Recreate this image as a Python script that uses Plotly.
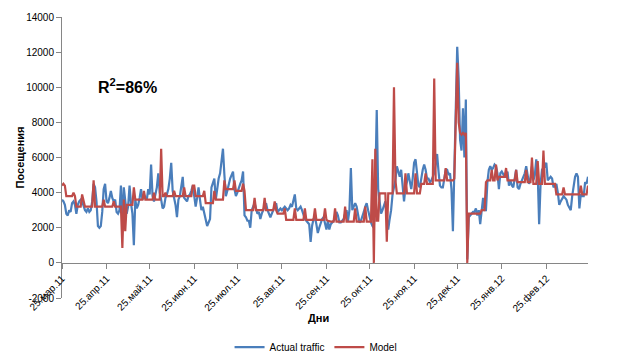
import pandas as pd
import plotly.graph_objects as go

start_date = "2011-03-25"

actual_traffic = [
    3600, 3500, 3300, 2800, 2700, 3000, 2900,
    3400, 3500, 3300, 2800, 3300, 3500, 3600,
    3500, 3200, 3000, 2900, 3100, 2900, 3000,
    3500, 4500, 4300, 3500, 2100, 2000, 2100,
    2900, 4200, 4500, 3500, 3400, 3700, 4100,
    3700, 3500, 3600, 2900, 2800, 3000, 4400,
    2200, 4300, 3500, 2800, 3200, 4400, 3400,
    2800, 1000, 3600, 3100, 3300, 3700, 4200,
    3600, 3900, 3700, 3600, 4200, 3900, 5600,
    3800, 3500, 3900, 4300, 5100, 4000, 3600,
    3100, 3200, 3700, 3900, 4200, 4800, 5700,
    4100, 3700, 3300, 2600, 3600, 3800, 4300,
    4900, 3700, 3600, 3500, 3800, 3900, 4100,
    4400, 3800, 3200, 3700, 4300, 3600, 3000,
    3200, 2800, 2300, 2100, 2300, 2500, 4300,
    4600, 4800, 3600, 4400, 4800, 5100, 5700,
    6500, 5000, 3800, 4100, 4500, 4800, 5000,
    5200, 4200, 3800, 4000, 4300, 4500, 4700,
    5200, 2700, 2600, 2400, 2400, 2000, 3000,
    3200, 3400, 3100, 2800, 2900, 2500, 2800,
    3000, 3200, 3400, 3000, 2800, 2600, 2800,
    3000, 3200, 3400, 2900, 3000, 3100, 3000,
    3100, 3200, 3100, 3000, 3100, 3300, 3200,
    3500, 3900, 3100, 3000, 3100, 3200, 3000,
    2700, 2500, 2400, 2300, 2200, 1200, 2100,
    2500, 2600, 2200, 1700, 2000, 2300, 2500,
    2600, 2300, 1900, 2400, 1900, 2200, 2300,
    2400, 2500, 2900, 2700, 2300, 2300, 2400,
    2500, 2800, 3000, 2400, 3000, 5400, 3000,
    3200, 3400, 3200, 2800, 2300, 2400, 2600,
    2900, 3200, 3400, 3000, 2600, 2300, 2100,
    2000, 4500, 8700, 4200, 3300, 2800, 3000,
    3200, 3500, 2600, 1900, 2500, 3000, 3900,
    4300, 4700, 5500, 5100, 4900, 5300, 4500,
    3500, 4300, 4600, 5100, 4600, 4200, 4800,
    5700, 5900, 5000, 4400, 4300, 4900, 5300,
    5600, 5300, 4800, 4800, 4600, 4700, 4900,
    5100, 5600, 6200, 5200, 4400, 4300, 4300,
    4800, 5300, 5300, 5000, 5100, 4200, 1800,
    5500, 9500, 12300, 10500, 7000, 6400, 8800,
    6000, 9300, 200, 2600, 2700, 2800, 2900,
    2900, 3100, 2700, 3000, 2200, 3000, 3700,
    3000, 3000, 4600, 5300, 5500, 5300, 5400,
    5600, 5500, 5100, 4200, 5100, 5200, 5000,
    4900, 4900, 5200, 4400, 4700, 4400, 4300,
    4800, 5300, 4300, 4200, 4500, 4700, 4900,
    5100, 5500, 4900, 4500, 4800, 5500, 4700,
    5000, 5900, 5100, 2200, 4500, 5300, 5400,
    5500, 5700, 4700, 4800, 4900, 4800, 4300,
    4400, 4500, 4000, 3300, 3500, 3700, 3800,
    3700, 3600, 3300, 3100, 3000, 3800, 4500,
    4900, 5100, 4900, 3100, 3900, 3800, 3800,
    4600, 4500, 4900,
]

model = [
    4400, 4500, 4400, 3800, 3800, 3800, 3800,
    3800, 4000, 3800, 3200, 3200, 3200, 3200,
    3900, 3500, 3200, 3200, 3200, 3200, 3200,
    3200, 4700, 3200, 3200, 3200, 3200, 3200,
    3200, 3600, 3200, 3200, 3200, 3200, 3200,
    3200, 3500, 3200, 3200, 3200, 3200, 3200,
    850, 3600, 1800, 3300, 3300, 3300, 3300,
    3300, 4300, 3600, 3600, 3600, 3600, 3600,
    3600, 4100, 3600, 3600, 3600, 3600, 3600,
    3600, 4000, 3600, 3600, 3600, 3600, 6500,
    3800, 3800, 4000, 3800, 3800, 3800, 3800,
    3800, 4100, 3800, 3800, 3800, 3800, 3800,
    3800, 4300, 3800, 3800, 3800, 3800, 3800,
    4400, 4400, 3800, 3800, 3800, 3800, 3800,
    3800, 4100, 3400, 3400, 3400, 3400, 3400,
    3400, 4100, 3600, 3600, 3600, 3600, 3600,
    3600, 4700, 4200, 4200, 4200, 4200, 4200,
    4200, 4700, 4100, 4100, 4100, 4100, 4100,
    4500, 4100, 3000, 3000, 3000, 3000, 3000,
    3000, 3700, 3000, 3000, 3000, 3000, 3000,
    3000, 3700, 3000, 3000, 3000, 3000, 3000,
    3000, 3500, 3000, 2800, 2800, 2800, 2800,
    2800, 3100, 2450, 2450, 2450, 2450, 2450,
    2450, 3100, 2450, 2450, 2450, 2450, 2450,
    2450, 3100, 2450, 2450, 2450, 2450, 2450,
    2450, 3100, 2450, 2450, 2450, 2450, 2450,
    2450, 3100, 2450, 2400, 2350, 2350, 2350,
    2350, 3100, 2350, 2350, 2350, 2350, 2350,
    2350, 3200, 2350, 2350, 2350, 2350, 2350,
    2350, 3100, 2350, 2350, 2350, 2350, 2350,
    2350, 3200, 2350, 2350, 2350, 2350, 5900,
    0, 6500, 2400, 2400, 3960, 3960, 3960,
    3960, 3960, 1200, 3960, 3960, 3960, 3960,
    10000, 4700, 3960, 3960, 3960, 3960, 3960,
    3960, 5100, 3960, 3960, 3960, 3960, 3960,
    3960, 5100, 3960, 3960, 3960, 4500, 4500,
    4500, 5100, 4500, 4500, 4500, 4500, 4500,
    10500, 4700, 4700, 4700, 4700, 4700, 4700,
    4700, 5400, 4700, 4700, 4700, 4700, 4700,
    4800, 9000, 11400, 8000, 7400, 7300, 7400,
    7300, 7400, 0, 2800, 2800, 2800, 2800,
    2800, 2800, 2800, 2800, 2800, 3000, 3000,
    3000, 4600, 4700, 4700, 4700, 5300, 4700,
    4700, 5600, 4700, 4900, 4900, 4900, 4900,
    4900, 5400, 4700, 4700, 4700, 4700, 4700,
    4700, 5300, 4600, 4600, 4600, 4600, 4600,
    4600, 5300, 4600, 4600, 4600, 6000, 4500,
    4500, 4500, 5800, 4500, 4500, 4500, 6400,
    4500, 4500, 4500, 4500, 4500, 4500, 4500,
    4500, 3900, 3900, 3900, 3900, 3900, 4300,
    3900, 3900, 3900, 3900, 3900, 3900, 3900,
    3900, 3900, 3900, 3900, 4400, 3900, 3900,
    3900, 3900, 4400,
]

tick_dates = [
    "2011-03-25", "2011-04-25", "2011-05-25", "2011-06-25", "2011-07-25",
    "2011-08-25", "2011-09-25", "2011-10-25", "2011-11-25", "2011-12-25",
    "2012-01-25", "2012-02-25",
]
tick_labels = [
    "25.мар.11", "25.апр.11", "25.май.11", "25.июн.11", "25.июл.11",
    "25.авг.11", "25.сен.11", "25.окт.11", "25.ноя.11", "25.дек.11",
    "25.янв.12", "25.фев.12",
]
y_ticks = [-2000, 0, 2000, 4000, 6000, 8000, 10000, 12000, 14000]
y_tick_labels = ["-2000", "0", "2000", "4000", "6000", "8000", "10000", "12000", "14000"]

dates = pd.date_range(start_date, periods=len(actual_traffic), freq="D")

FONT = "Liberation Sans, Arial, sans-serif"
AXIS_COLOR = "#868686"

fig = go.Figure()
fig.add_trace(go.Scatter(x=dates, y=actual_traffic, mode="lines", name="Actual traffic",
                         line=dict(color="#4A7EBB", width=2.2)))
fig.add_trace(go.Scatter(x=dates, y=model, mode="lines", name="Model",
                         line=dict(color="#BE4B48", width=2.2)))

fig.update_layout(
    width=644, height=361,
    margin=dict(l=62, r=56, t=17, b=63, autoexpand=False),
    paper_bgcolor="white", plot_bgcolor="white",
    font=dict(family=FONT, size=10, color="#000000"),
    showlegend=True,
    legend=dict(orientation="h", x=0.483, xanchor="center", y=-0.175, yanchor="middle",
                font=dict(size=10, family=FONT), itemwidth=30, tracegroupgap=0,
                bgcolor="rgba(0,0,0,0)"),
    xaxis=dict(
        type="date",
        range=["2011-03-25", "2012-03-25"],
        tickmode="array", tickvals=tick_dates, ticktext=tick_labels,
        tickangle=-45, ticks="outside", ticklen=5, tickcolor=AXIS_COLOR,
        showline=True, linecolor=AXIS_COLOR, linewidth=1,
        showgrid=False, zeroline=False,
        anchor="free", position=0.125,
        automargin=False,
        tickfont=dict(size=10, family=FONT),
    ),
    yaxis=dict(
        range=[-2000, 14000],
        tickmode="array", tickvals=y_ticks, ticktext=y_tick_labels,
        ticks="outside", ticklen=5, tickcolor=AXIS_COLOR,
        showline=True, linecolor=AXIS_COLOR, linewidth=1,
        showgrid=False, zeroline=False, automargin=False,
        tickfont=dict(size=10, family=FONT),
    ),
    annotations=[
        dict(text="<b>R<sup>2</sup>=86%</b>", xref="paper", yref="paper",
             x=0.124, y=0.755, xanchor="center", yanchor="middle",
             showarrow=False, font=dict(size=16, family=FONT)),
        dict(text="<b>Дни</b>", xref="paper", yref="paper",
             x=0.487, y=-0.072, xanchor="center", yanchor="middle",
             showarrow=False, font=dict(size=11, family=FONT)),
        dict(text="<b>Посещения</b>", xref="paper", yref="paper",
             x=-0.08, y=0.5, xanchor="center", yanchor="middle", textangle=-90,
             showarrow=False, font=dict(size=11, family=FONT)),
    ],
)

fig.write_html("out.html", config={"displayModeBar": False},
               post_script="document.body.style.margin='0';")
